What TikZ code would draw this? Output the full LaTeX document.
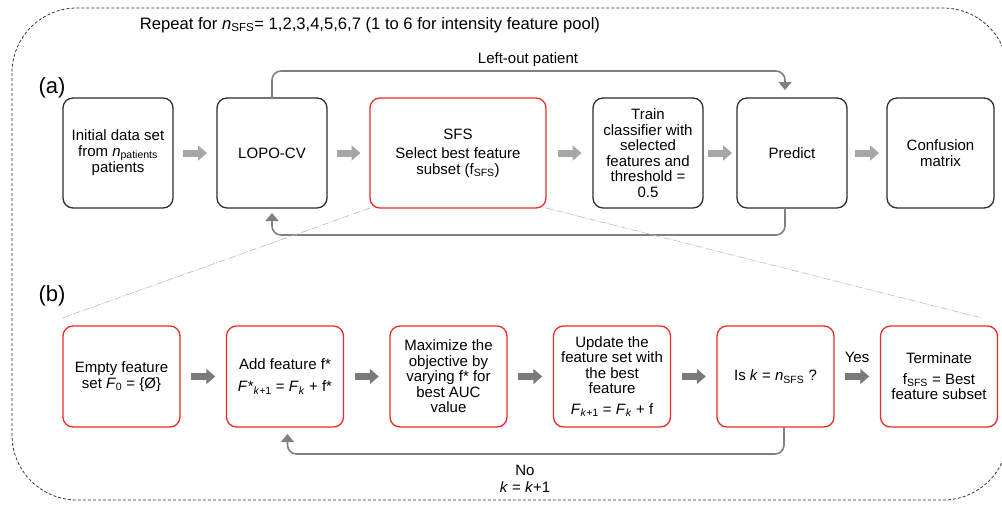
\documentclass[tikz,border=0pt]{standalone}
\usepackage{fontspec}
\setmainfont{Liberation Sans}
\usepackage{tikz}
\usetikzlibrary{positioning,calc,arrows.meta}
\definecolor{sfsred}{RGB}{240,40,40}
\definecolor{boxgray}{RGB}{45,45,45}
\definecolor{arrowlight}{RGB}{166,166,166}
\definecolor{arrowdark}{RGB}{122,122,122}
\definecolor{loopgray}{RGB}{128,128,128}
\tikzstyle{block} = [rectangle, draw=boxgray, line width=1.3pt, rounded corners=10pt,
    align=center, minimum width=110pt, minimum height=110pt, inner sep=2pt, outer sep=0pt,
    font=\fontsize{15}{15.5}\selectfont]
\tikzstyle{redblock} = [block, draw=sfsred]
\tikzstyle{sfsblock} = [redblock, minimum width=117pt, minimum height=101pt]
\tikzstyle{fatarrow} = [draw=arrowlight, line width=7pt, -{Triangle[length=9pt,width=15pt]}]
\tikzstyle{darkarrow} = [fatarrow, draw=arrowdark]
\tikzstyle{backline} = [draw=loopgray, line width=1.6pt, rounded corners=9pt, -{Triangle[length=8pt,width=13pt]}]
\tikzstyle{zoomline} = [draw=gray!55, line width=0.6pt, dash pattern=on 7pt off 1.5pt on 1pt off 1.5pt]
\tikzstyle{txt} = [inner sep=1pt, align=center, font=\fontsize{15}{17}\selectfont]
\tikzstyle{tag} = [inner sep=1pt, font=\fontsize{22}{24}\selectfont]

\begin{document}
\begin{tikzpicture}[x=1pt,y=-1pt]
    \useasboundingbox (0,0) rectangle (1002,504);
    % Repeat frame
    \draw[black!80, line width=0.8pt, dash pattern=on 3pt off 2pt, rounded corners=65pt]
        (12,8) rectangle (1008,500);
    \node[txt, font=\fontsize{16.6}{18}\selectfont] (repeat) at (370,25) {Repeat for \textit{n}\textsubscript{SFS}= 1,2,3,4,5,6,7 (1 to 6 for intensity feature pool)};
    % Place nodes (a)
    \node[tag] (taga) at (52,88) {(a)};
    \node[block] (init) at (118,153) {Initial data set\\from \textit{n}\textsubscript{patients}\\patients};
    \node[block, right=44pt of init] (lopo) {LOPO-CV};
    \node[redblock, right=43pt of lopo, minimum width=176pt] (sfs) {SFS\\[4pt]Select best feature\\subset (f\textsubscript{SFS})};
    \node[block, right=47pt of sfs] (train) {Train\\classifier with\\selected\\features and\\threshold =\\0.5};
    \node[block, right=34pt of train] (predict) {Predict};
    \node[block, right=40pt of predict, minimum width=107pt] (confusion) {Confusion\\matrix};
    \node[txt] (leftout) at (528,60) {Left-out patient};
    % Place nodes (b)
    \node[tag] (tagb) at (52,296) {(b)};
    \node[sfsblock] (empty) at (121.5,376.5) {Empty feature\\set \textit{F}\textsubscript{0} = \{Ø\}};
    \node[sfsblock, right=46.5pt of empty] (add) {Add feature f*\\[6pt]\textit{F}*\textsubscript{\textit{k}+1} = \textit{F}\textsubscript{\textit{k}} + f*};
    \node[sfsblock, right=46.5pt of add] (maxim) {Maximize the\\objective by\\varying f* for\\best AUC\\value};
    \node[sfsblock, right=46.5pt of maxim] (update) {Update the\\feature set with\\the best\\feature\\[5pt]\textit{F}\textsubscript{\textit{k}+1} = \textit{F}\textsubscript{\textit{k}} + f};
    \node[sfsblock, right=46.5pt of update] (check) {Is \textit{k} = \textit{n}\textsubscript{SFS} ?};
    \node[sfsblock, right=46.5pt of check] (stop) {Terminate\\[5pt]f\textsubscript{SFS} = Best\\feature subset};
    \node[txt] (yes) at (857,357) {Yes};
    \node[txt] (no) at (525,479) {No\\\textit{k} = \textit{k}+1};
    \coordinate (zoomL) at (62,318);
    \coordinate (zoomR) at (982,318);
    % Draw edges (a)
    \foreach \from/\to in {init/lopo, lopo/sfs, sfs/train, train/predict, predict/confusion}
        \draw[fatarrow] ($(\from.east)!.5!(\to.west)+(-12,0)$) -- ++(24,0);
    \draw[backline] (lopo.north) -- ++(0,-27) -| ([xshift=-7pt,yshift=8pt]predict.north);
    \draw[backline] ([xshift=-7pt]predict.south) -- ++(0,27) -| ([yshift=-5pt]lopo.south);
    % Zoom lines
    \draw[zoomline] (sfs.south west) -- (zoomL);
    \draw[zoomline] (sfs.south east) -- (zoomR);
    % Draw edges (b)
    \foreach \from/\to in {empty/add, add/maxim, maxim/update, update/check, check/stop}
        \draw[darkarrow] ($(\from.east)!.5!(\to.west)+(-12,0)$) -- ++(24,0);
    \draw[backline] ([xshift=8.5pt]check.south) -- ++(0,27) -| ([xshift=2.5pt,yshift=-7pt]add.south);
\end{tikzpicture}
\end{document}
